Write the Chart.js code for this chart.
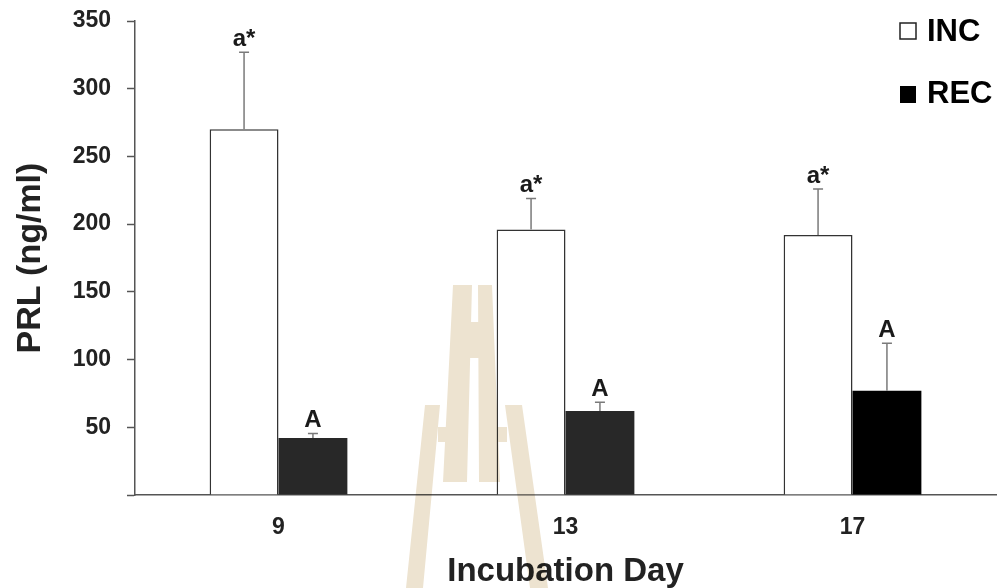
<!DOCTYPE html>
<html>
<head>
<meta charset="utf-8">
<script src="https://cdn.jsdelivr.net/npm/chart.js@4/dist/chart.umd.min.js"></script>
<style>
  html, body { margin: 0; padding: 0; background: #fff; }
  canvas { display: block; }
</style>
</head>
<body>
<canvas id="myChart" width="1000" height="588"></canvas>
<script>
// values
const days = ["9", "13", "17"];
const incMean = [270, 196, 192];
const incErr = [57, 23, 34];
const recMean = [42, 62, 77];
const recErr = [3.5, 6.5, 35];
const incLetters = ["a*", "a*", "a*"];
const recLetters = ["A", "A", "A"];
const recColors = ["#282828", "#282828", "#000000"];

const FONT = 'Arial, "Liberation Sans", sans-serif';
const errs = [incErr, recErr];
const letters = [incLetters, recLetters];

// error bars (upper only) + letters above them
const errorBars = {
  id: "errorBars",
  afterDatasetsDraw(chart) {
    const ctx = chart.ctx;
    const y = chart.scales.y;
    ctx.save();
    chart.data.datasets.forEach((ds, i) => {
      const meta = chart.getDatasetMeta(i);
      meta.data.forEach((bar, j) => {
        const top = y.getPixelForValue(ds.data[j] + errs[i][j]);
        ctx.strokeStyle = "#7a7a7a";
        ctx.lineWidth = 1.5;
        ctx.beginPath();
        ctx.moveTo(bar.x, bar.y);
        ctx.lineTo(bar.x, top);
        ctx.moveTo(bar.x - 5, top);
        ctx.lineTo(bar.x + 5, top);
        ctx.stroke();
        ctx.fillStyle = "#1a1a1a";
        ctx.font = "bold 24px " + FONT;
        ctx.textAlign = "center";
        ctx.textBaseline = "alphabetic";
        ctx.fillText(letters[i][j], bar.x, top - 6);
      });
    });
    ctx.restore();
  },
};

// faint logo watermark of the source, multiplied over the figure
const watermark = {
  id: "watermark",
  afterDraw(chart) {
    const ctx = chart.ctx;
    const shapes = [
      [[453, 285], [472, 285], [467, 482], [443, 482]],
      [[478, 285], [492, 285], [500, 482], [479, 482]],
      [[453, 322], [492, 322], [492, 358], [453, 358]],
      [[425, 405], [440, 405], [423, 588], [406, 588]],
      [[438, 427], [455, 427], [455, 442], [438, 442]],
      [[505, 405], [522, 405], [548, 588], [530, 588]],
      [[490, 427], [507, 427], [507, 442], [490, 442]],
    ];
    ctx.save();
    ctx.globalCompositeOperation = "multiply";
    ctx.fillStyle = "#ede3d0";
    ctx.beginPath();
    shapes.forEach((pts) => {
      pts.forEach((p, k) => (k ? ctx.lineTo(p[0], p[1]) : ctx.moveTo(p[0], p[1])));
      ctx.closePath();
    });
    ctx.fill("nonzero");
    ctx.restore();
  },
};

// legend in the top right corner
const cornerLegend = {
  id: "cornerLegend",
  afterDraw(chart) {
    const ctx = chart.ctx;
    ctx.save();
    ctx.lineWidth = 1.5;
    ctx.strokeStyle = "#222";
    ctx.fillStyle = "#fff";
    ctx.fillRect(900, 23, 16, 16);
    ctx.strokeRect(900, 23, 16, 16);
    ctx.fillStyle = "#000";
    ctx.fillRect(900, 86, 16, 17);
    ctx.font = "bold 31px " + FONT;
    ctx.textBaseline = "alphabetic";
    ctx.textAlign = "left";
    ctx.fillText("INC", 927, 41);
    ctx.fillText("REC", 927, 103);
    ctx.restore();
  },
};

new Chart(document.getElementById("myChart"), {
  type: "bar",
  data: {
    labels: days,
    datasets: [
      {
        label: "INC",
        data: incMean,
        backgroundColor: "#ffffff",
        borderColor: "#333333",
        borderWidth: 1.5,
        categoryPercentage: 0.48,
        barPercentage: 1,
      },
      {
        label: "REC",
        data: recMean,
        backgroundColor: recColors,
        borderWidth: 0,
        categoryPercentage: 0.48,
        barPercentage: 1,
      },
    ],
  },
  options: {
    responsive: false,
    animation: false,
    layout: { padding: { top: 21, right: 4, left: 0, bottom: 0 } },
    plugins: {
      legend: { display: false },
      tooltip: { enabled: false },
    },
    scales: {
      x: {
        grid: { display: false },
        border: { display: true, color: "#555", width: 1.5 },
        ticks: { font: { family: FONT, size: 23, weight: "bold" }, color: "#222", padding: 11 },
        title: {
          display: true,
          text: "Incubation Day",
          font: { family: FONT, size: 33, weight: "bold", lineHeight: 1 },
          color: "#222",
          padding: { top: 0, bottom: 0 },
        },
        afterFit: (s) => { s.height = 93; },
      },
      y: {
        min: 0,
        max: 350,
        grid: { display: true, drawOnChartArea: false, drawTicks: true, tickLength: 8, tickColor: "#555", tickWidth: 1.5 },
        border: { display: true, color: "#555", width: 1.5 },
        ticks: {
          stepSize: 50,
          font: { family: FONT, size: 23, weight: "bold" },
          color: "#222",
          padding: 16,
          callback: (v) => (v === 0 ? "" : v),
        },
        title: {
          display: true,
          text: "PRL (ng/ml)",
          font: { family: FONT, size: 34, weight: "bold" },
          color: "#222",
          padding: { top: 10, bottom: 0 },
        },
        afterFit: (s) => {
          s.width = 135;
          s.paddingTop = 0;
          s.paddingBottom = 0;
        },
      },
    },
  },
  plugins: [errorBars, watermark, cornerLegend],
});
</script>
</body>
</html>
